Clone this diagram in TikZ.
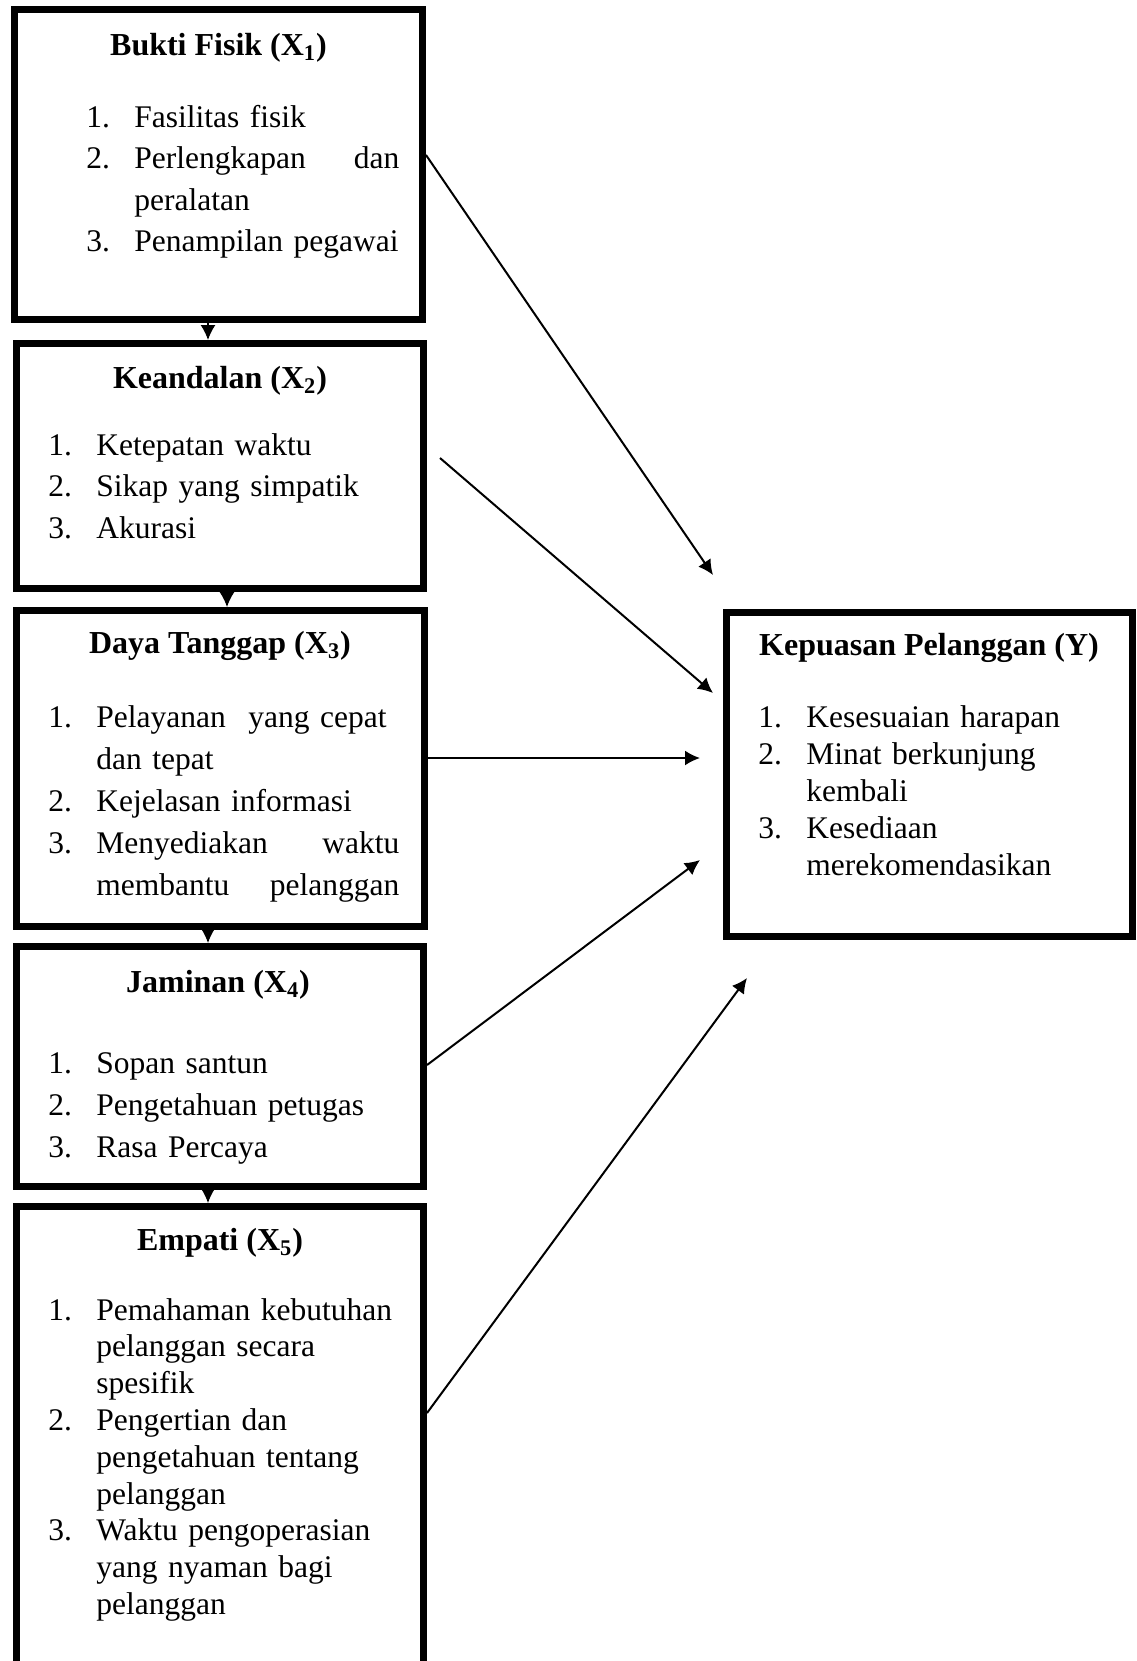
\documentclass[tikz,border=0pt]{standalone}
\usepackage{fontspec}
\setmainfont{Liberation Serif}
\usetikzlibrary{arrows.meta,fit,calc}

\newcommand{\lnum}[1]{\makebox[24pt][l]{#1.}}
\newcommand{\lind}{\hspace*{24pt}}

\begin{document}
\begin{tikzpicture}[x=0.5pt,y=-0.5pt,
    box/.style={draw, line width=3.5pt, inner sep=0pt},
    ttl/.style={anchor=base, inner sep=0pt, font=\fontsize{16}{19}\selectfont\bfseries},
    lst/.style={anchor=base west, inner sep=0pt, align=left, text width=190pt},
    arr/.style={-{Latex[length=7.5pt,width=7.5pt]}, line width=1pt}]
    \useasboundingbox (0,0) rectangle (1136,1661);
    % variable boxes
    \node[box, fit={(14.5,9.5) (422.5,319.5)}] (X1) {};
    \node[box, fit={(16.5,343.5) (423.5,588.5)}] (X2) {};
    \node[box, fit={(16.5,610.5) (424.5,926.5)}] (X3) {};
    \node[box, fit={(16.5,946.5) (423.5,1186.5)}] (X4) {};
    \node[box, fit={(16.5,1206.5) (423.5,1720)}] (X5) {};
    \node[box, fit={(726.5,612.5) (1132.5,936.5)}] (Y) {};
    % titles
    \node[ttl] (t1) at (218.5,55) {Bukti Fisik (X\textsubscript{1})};
    \node[ttl] (t2) at (220,388) {Keandalan (X\textsubscript{2})};
    \node[ttl] (t3) at (220,653) {Daya Tanggap (X\textsubscript{3})};
    \node[ttl] (t4) at (218,992) {Jaminan (X\textsubscript{4})};
    \node[ttl] (t5) at (220,1250) {Empati (X\textsubscript{5})};
    \node[ttl] (ty) at (929,655) {Kepuasan Pelanggan (Y)};
    % indicators
    \node[lst, font=\fontsize{15.75}{20.8}\selectfont] (l1) at (86,127)
        {\lnum{1}Fasilitas fisik\\
         \lnum{2}\makebox[132.5pt][l]{Perlengkapan\hfill dan}\\
         \lind peralatan\\
         \lnum{3}Penampilan pegawai};
    \node[lst, font=\fontsize{15.75}{20.75}\selectfont] (l2) at (48,455)
        {\lnum{1}Ketepatan waktu\\
         \lnum{2}Sikap yang simpatik\\
         \lnum{3}Akurasi};
    \node[lst, font=\fontsize{15.75}{21}\selectfont] (l3) at (48,727)
        {\lnum{1}Pelayanan\hspace{6pt} yang cepat\\
         \lind dan tepat\\
         \lnum{2}Kejelasan informasi\\
         \lnum{3}\makebox[151.5pt][l]{Menyediakan\hfill waktu}\\
         \lind\makebox[151.5pt][l]{membantu\hfill pelanggan}};
    \node[lst, font=\fontsize{15.75}{21.2}\selectfont] (l4) at (48,1073)
        {\lnum{1}Sopan santun\\
         \lnum{2}Pengetahuan petugas\\
         \lnum{3}Rasa Percaya};
    \node[lst, font=\fontsize{15.75}{18.4}\selectfont] (l5) at (48,1320)
        {\lnum{1}Pemahaman kebutuhan\\
         \lind pelanggan secara\\
         \lind spesifik\\
         \lnum{2}Pengertian dan\\
         \lind pengetahuan tentang\\
         \lind pelanggan\\
         \lnum{3}Waktu pengoperasian\\
         \lind yang nyaman bagi\\
         \lind pelanggan};
    \node[lst, font=\fontsize{15.75}{18.5}\selectfont] (ly) at (758,727)
        {\lnum{1}Kesesuaian harapan\\
         \lnum{2}Minat berkunjung\\
         \lind kembali\\
         \lnum{3}Kesediaan\\
         \lind merekomendasikan};
    % down arrows
    \draw[arr, line width=0.75pt] (X1.south -| 208,0) -- (X2.north -| 208,0);
    \draw[arr, line width=0.75pt] (X2.south -| 227,0) -- (X3.north -| 227,0);
    \draw[arr, line width=0.75pt] (X3.south -| 208,0) -- (X4.north -| 208,0);
    \draw[arr, line width=0.75pt] (X4.south -| 208,0) -- (X5.north -| 208,0);
    % arrow ends near Y
    \coordinate (s2) at ($(X2.east)+(13,-8)$);
    \coordinate (e1) at (713,575);
    \coordinate (e2) at (713,693);
    \coordinate (e3) at (700,758);
    \coordinate (e4) at (700,860);
    \coordinate (e5) at (747,978);
    % influence arrows
    \draw[arr] (X1.east |- 0,155) -- (e1);
    \draw[arr] (s2) -- (e2);
    \draw[arr] (X3.east |- 0,758) -- (e3);
    \draw[arr] (X4.east |- 0,1065) -- (e4);
    \draw[arr] (X5.east |- 0,1413) -- (e5);
\end{tikzpicture}
\end{document}
